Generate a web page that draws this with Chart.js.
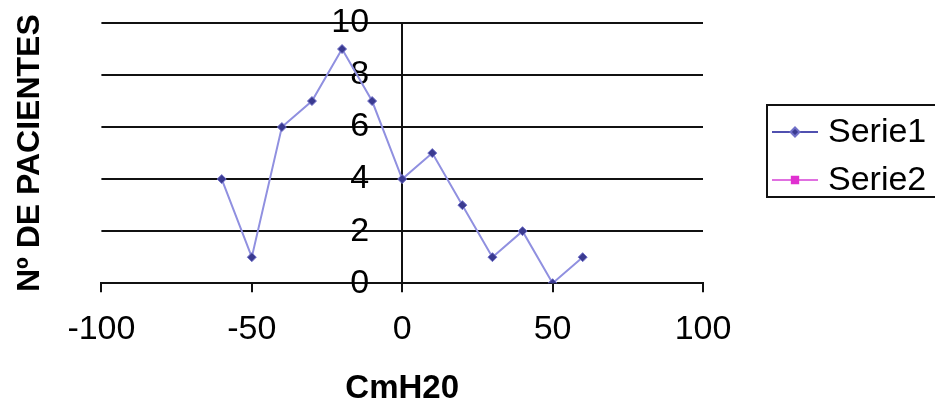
<!DOCTYPE html>
<html><head><meta charset="utf-8">
<script src="https://cdn.jsdelivr.net/npm/chart.js@4/dist/chart.umd.min.js"></script>
<style>html,body{margin:0;padding:0;background:#fff;} canvas{display:block;}</style>
</head><body>
<canvas id="c" width="935" height="401" style="width:935px;height:401px"></canvas>
<script>
const xValues = [-60, -50, -40, -30, -20, -10, 0, 10, 20, 30, 40, 50, 60];
const serie1 = [4, 1, 6, 7, 9, 7, 4, 5, 3, 1, 2, 0, 1];
const serie2 = [];
const seriesLabels = ['Serie1', 'Serie2'];
const xTitle = 'CmH20';
const yTitle = 'Nº DE PACIENTES';
const xMin = -100, xMax = 100, xStep = 50;
const yMin = 0, yMax = 10, yStep = 2;

const FONT = "'Liberation Sans', Arial, sans-serif";
const INK = '#111';

const legendBox = {
  id: 'legendBox',
  afterDraw(chart) {
    const ctx = chart.ctx;
    ctx.save();
    ctx.lineWidth = 2;
    ctx.strokeStyle = INK;
    ctx.strokeRect(767, 105, 180, 92);
    chart.data.datasets.forEach((ds, i) => {
      const y = 132 + i * 48;
      ctx.strokeStyle = ds.legendLine;
      ctx.lineWidth = 2;
      ctx.beginPath(); ctx.moveTo(772, y); ctx.lineTo(818, y); ctx.stroke();
      ctx.fillStyle = ds.pointBackgroundColor;
      ctx.strokeStyle = ds.pointBorderColor;
      Chart.helpers.drawPoint(ctx, {pointStyle: ds.pointStyle, radius: 4.5, borderWidth: 1}, 795, y);
      ctx.fillStyle = '#000';
      ctx.font = `34px ${FONT}`;
      ctx.textBaseline = 'middle';
      ctx.textAlign = 'left';
      ctx.fillText(ds.label, 828, y + 1);
    });
    ctx.restore();
  }
};

const tickFont = {family: FONT, size: 34};

const ctx = document.getElementById('c').getContext('2d');
new Chart(ctx, {
  type: 'line',
  data: {
    datasets: [
      {
        label: seriesLabels[0],
        data: xValues.map((x, i) => ({x, y: serie1[i]})),
        borderColor: '#9090e0',
        borderWidth: 2,
        pointStyle: 'rectRot',
        pointRadius: 4.5,
        pointBackgroundColor: '#3a3a90',
        pointBorderColor: '#7070c8',
        pointBorderWidth: 1,
        legendLine: '#5050b0',
        tension: 0,
        fill: false,
        xAxisID: 'x', yAxisID: 'y'
      },
      {
        label: seriesLabels[1],
        data: serie2,
        borderColor: '#e040e0',
        borderWidth: 2,
        pointStyle: 'rect',
        pointRadius: 4,
        pointBackgroundColor: '#e030d0',
        pointBorderColor: '#e030d0',
        legendLine: '#e070e0',
        fill: false,
        xAxisID: 'x', yAxisID: 'y'
      }
    ]
  },
  options: {
    responsive: false,
    animation: false,
    devicePixelRatio: 1,
    layout: {padding: {top: 23, right: 232, bottom: -3, left: 0}},
    plugins: {legend: {display: false}, tooltip: {enabled: false}},
    scales: {
      x: {
        type: 'linear', min: xMin, max: xMax, position: 'bottom',
        ticks: {stepSize: xStep, padding: 17, color: '#000', font: tickFont},
        grid: {drawOnChartArea: false, drawTicks: true, tickLength: 9, color: INK, lineWidth: 2},
        border: {display: true, color: INK, width: 2},
        title: {display: true, text: xTitle, color: '#000', font: {family: FONT, size: 33, weight: 'bold', lineHeight: 0.94}, padding: {top: 6, bottom: 0}}
      },
      y: {
        type: 'linear', min: yMin, max: yMax, position: {x: 0},
        ticks: {display: false, stepSize: yStep},
        grid: {color: INK, lineWidth: 2, drawTicks: false},
        border: {display: true, color: INK, width: 2}
      },
      yLabels: {
        type: 'linear', min: yMin, max: yMax, position: {x: -11},
        ticks: {stepSize: yStep, padding: 0, color: '#000', font: tickFont},
        grid: {display: false},
        border: {display: false}
      },
      yTitle: {
        type: 'linear', position: 'left', min: yMin, max: yMax,
        ticks: {display: false},
        grid: {display: false},
        border: {display: false},
        title: {display: true, text: yTitle, color: '#000', font: {family: FONT, size: 32, weight: 'bold', lineHeight: 1.2}, padding: {top: 11, bottom: 44}}
      }
    }
  },
  plugins: [legendBox]
});
</script>
</body></html>
